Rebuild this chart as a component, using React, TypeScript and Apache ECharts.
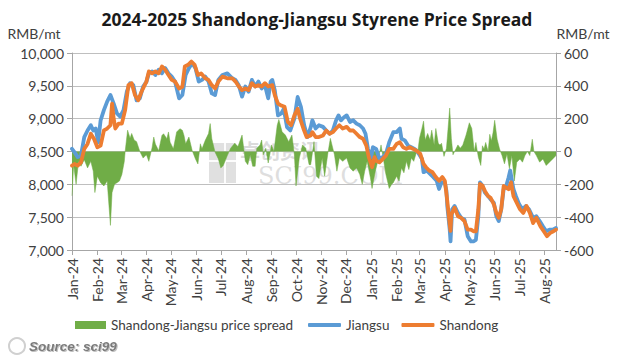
import React, { useEffect, useRef } from 'react';
import * as echarts from 'echarts';

const monthTickDates = [
  '2024-01-01', '2024-02-01', '2024-03-01', '2024-04-01', '2024-05-01', '2024-06-01',
  '2024-07-01', '2024-08-01', '2024-09-01', '2024-10-01', '2024-11-01', '2024-12-01',
  '2025-01-01', '2025-02-01', '2025-03-01', '2025-04-01', '2025-05-01', '2025-06-01',
  '2025-07-01', '2025-08-01',
];
const monthLabels = [
  'Jan-24', 'Feb-24', 'Mar-24', 'Apr-24', 'May-24', 'Jun-24', 'Jul-24', 'Aug-24', 'Sep-24',
  'Oct-24', 'Nov-24', 'Dec-24', 'Jan-25', 'Feb-25', 'Mar-25', 'Apr-25', 'May-25', 'Jun-25',
  'Jul-25', 'Aug-25',
];
const xStart = '2024-01-01';
const xEnd = '2025-08-15';

const jiangsu: [string, number][] = [
  ['2024-01-01', 8540], ['2024-01-04', 8490], ['2024-01-08', 8415], ['2024-01-12', 8440],
  ['2024-01-16', 8720], ['2024-01-20', 8820], ['2024-01-24', 8900], ['2024-01-27', 8820],
  ['2024-01-30', 8850], ['2024-02-02', 8640], ['2024-02-05', 8975], ['2024-02-09', 9130],
  ['2024-02-13', 9260], ['2024-02-17', 9360], ['2024-02-21', 9230], ['2024-02-25', 9080],
  ['2024-02-29', 9030], ['2024-03-04', 9130], ['2024-03-08', 9410], ['2024-03-12', 9540],
  ['2024-03-16', 9510], ['2024-03-20', 9280], ['2024-03-24', 9310], ['2024-03-28', 9490],
  ['2024-04-01', 9560], ['2024-04-04', 9690], ['2024-04-08', 9720], ['2024-04-12', 9665],
  ['2024-04-16', 9745], ['2024-04-20', 9690], ['2024-04-24', 9770], ['2024-04-28', 9690],
  ['2024-05-02', 9640], ['2024-05-06', 9565], ['2024-05-11', 9310], ['2024-05-15', 9360],
  ['2024-05-19', 9665], ['2024-05-23', 9770], ['2024-05-27', 9845], ['2024-05-31', 9770],
  ['2024-06-04', 9565], ['2024-06-08', 9590], ['2024-06-12', 9640], ['2024-06-16', 9565],
  ['2024-06-20', 9385], ['2024-06-24', 9360], ['2024-06-28', 9590], ['2024-07-03', 9665],
  ['2024-07-09', 9690], ['2024-07-15', 9615], ['2024-07-19', 9590], ['2024-07-23', 9510],
  ['2024-07-27', 9335], ['2024-07-31', 9490], ['2024-08-04', 9410], ['2024-08-08', 9590],
  ['2024-08-12', 9490], ['2024-08-16', 9565], ['2024-08-20', 9460], ['2024-08-24', 9510],
  ['2024-08-28', 9310], ['2024-08-31', 9565], ['2024-09-02', 9590], ['2024-09-05', 9435],
  ['2024-09-09', 9050], ['2024-09-13', 9080], ['2024-09-16', 9150], ['2024-09-20', 8870],
  ['2024-09-24', 8820], ['2024-09-29', 9000], ['2024-10-03', 9330], ['2024-10-07', 9180],
  ['2024-10-11', 8900], ['2024-10-15', 8720], ['2024-10-19', 8870], ['2024-10-21', 8975],
  ['2024-10-25', 8850], ['2024-10-29', 8900], ['2024-11-03', 8875], ['2024-11-07', 8820],
  ['2024-11-11', 8770], ['2024-11-15', 8820], ['2024-11-19', 8975], ['2024-11-22', 9050],
  ['2024-11-25', 8975], ['2024-11-29', 9025], ['2024-12-02', 9050], ['2024-12-06', 8950],
  ['2024-12-10', 8975], ['2024-12-14', 8925], ['2024-12-18', 8900], ['2024-12-22', 8850],
  ['2024-12-25', 8770], ['2024-12-28', 8540], ['2025-01-01', 8415], ['2025-01-03', 8565],
  ['2025-01-07', 8540], ['2025-01-11', 8390], ['2025-01-15', 8415], ['2025-01-19', 8465],
  ['2025-01-23', 8640], ['2025-01-28', 8795], ['2025-02-01', 8795], ['2025-02-05', 8850],
  ['2025-02-07', 8695], ['2025-02-11', 8670], ['2025-02-15', 8590], ['2025-02-19', 8565],
  ['2025-02-23', 8540], ['2025-02-27', 8490], ['2025-03-04', 8390], ['2025-03-06', 8185],
  ['2025-03-10', 8210], ['2025-03-14', 8160], ['2025-03-18', 8110], ['2025-03-22', 8055],
  ['2025-03-25', 7930], ['2025-03-28', 8030], ['2025-04-01', 8030], ['2025-04-03', 7900],
  ['2025-04-04', 7670], ['2025-04-07', 7310], ['2025-04-08', 7130], ['2025-04-10', 7620],
  ['2025-04-13', 7670], ['2025-04-17', 7565], ['2025-04-21', 7490], ['2025-04-25', 7465],
  ['2025-04-29', 7210], ['2025-05-03', 7130], ['2025-05-06', 7130], ['2025-05-09', 7155],
  ['2025-05-12', 7515], ['2025-05-14', 8030], ['2025-05-17', 7980], ['2025-05-20', 7875],
  ['2025-05-24', 7820], ['2025-05-27', 7770], ['2025-05-31', 7720], ['2025-06-03', 7515],
  ['2025-06-06', 7440], ['2025-06-09', 7620], ['2025-06-12', 7925], ['2025-06-15', 7975],
  ['2025-06-18', 8105], ['2025-06-20', 8210], ['2025-06-24', 7925], ['2025-06-27', 7820],
  ['2025-07-01', 7695], ['2025-07-05', 7620], ['2025-07-09', 7670], ['2025-07-13', 7620],
  ['2025-07-18', 7490], ['2025-07-22', 7515], ['2025-07-26', 7440], ['2025-07-30', 7360],
  ['2025-08-03', 7285], ['2025-08-07', 7310], ['2025-08-11', 7310], ['2025-08-15', 7335],
];

const shandong: [string, number][] = [
  ['2024-01-01', 8285], ['2024-01-04', 8310], ['2024-01-08', 8285], ['2024-01-12', 8335],
  ['2024-01-16', 8540], ['2024-01-20', 8615], ['2024-01-24', 8770], ['2024-01-28', 8690],
  ['2024-02-01', 8565], ['2024-02-05', 8590], ['2024-02-09', 8820], ['2024-02-13', 8850],
  ['2024-02-17', 8900], ['2024-02-19', 9230], ['2024-02-21', 9000], ['2024-02-23', 8850],
  ['2024-02-27', 8925], ['2024-03-02', 8925], ['2024-03-06', 9130], ['2024-03-10', 9510],
  ['2024-03-14', 9540], ['2024-03-18', 9360], ['2024-03-22', 9280], ['2024-03-26', 9410],
  ['2024-04-01', 9565], ['2024-04-04', 9720], ['2024-04-08', 9690], ['2024-04-12', 9720],
  ['2024-04-16', 9690], ['2024-04-20', 9795], ['2024-04-24', 9745], ['2024-04-28', 9665],
  ['2024-05-02', 9590], ['2024-05-06', 9565], ['2024-05-11', 9460], ['2024-05-15', 9485],
  ['2024-05-18', 9795], ['2024-05-22', 9820], ['2024-05-26', 9870], ['2024-05-30', 9820],
  ['2024-06-03', 9665], ['2024-06-07', 9690], ['2024-06-12', 9615], ['2024-06-16', 9590],
  ['2024-06-20', 9510], ['2024-06-24', 9460], ['2024-06-28', 9565], ['2024-07-03', 9640],
  ['2024-07-09', 9615], ['2024-07-15', 9615], ['2024-07-19', 9565], ['2024-07-23', 9490],
  ['2024-07-27', 9435], ['2024-07-31', 9460], ['2024-08-04', 9435], ['2024-08-08', 9540],
  ['2024-08-12', 9490], ['2024-08-16', 9510], ['2024-08-20', 9490], ['2024-08-24', 9540],
  ['2024-08-28', 9490], ['2024-09-02', 9510], ['2024-09-05', 9360], ['2024-09-09', 9230],
  ['2024-09-13', 9200], ['2024-09-17', 9180], ['2024-09-21', 8950], ['2024-09-25', 8900],
  ['2024-09-29', 9050], ['2024-10-03', 9150], ['2024-10-06', 9000], ['2024-10-10', 8850],
  ['2024-10-14', 8720], ['2024-10-19', 8745], ['2024-10-21', 8795], ['2024-10-25', 8720],
  ['2024-10-29', 8720], ['2024-11-03', 8745], ['2024-11-07', 8820], ['2024-11-11', 8770],
  ['2024-11-15', 8795], ['2024-11-19', 8850], ['2024-11-23', 8900], ['2024-11-27', 8850],
  ['2024-12-02', 8875], ['2024-12-06', 8820], ['2024-12-10', 8820], ['2024-12-14', 8770],
  ['2024-12-18', 8720], ['2024-12-22', 8695], ['2024-12-26', 8590], ['2024-12-29', 8415],
  ['2025-01-02', 8260], ['2025-01-05', 8415], ['2025-01-07', 8360], ['2025-01-11', 8335],
  ['2025-01-15', 8385], ['2025-01-19', 8440], ['2025-01-23', 8540], ['2025-01-28', 8540],
  ['2025-02-01', 8615], ['2025-02-05', 8640], ['2025-02-09', 8565], ['2025-02-13', 8540],
  ['2025-02-17', 8565], ['2025-02-21', 8540], ['2025-02-25', 8515], ['2025-03-02', 8465],
  ['2025-03-06', 8310], ['2025-03-09', 8260], ['2025-03-13', 8210], ['2025-03-17', 8185],
  ['2025-03-21', 8110], ['2025-03-25', 8055], ['2025-03-29', 8110], ['2025-04-01', 8055],
  ['2025-04-04', 7750], ['2025-04-07', 7390], ['2025-04-08', 7290], ['2025-04-09', 7540],
  ['2025-04-13', 7645], ['2025-04-17', 7515], ['2025-04-21', 7490], ['2025-04-25', 7440],
  ['2025-04-29', 7310], ['2025-05-03', 7310], ['2025-05-06', 7285], ['2025-05-09', 7285],
  ['2025-05-12', 7620], ['2025-05-14', 8005], ['2025-05-17', 7980], ['2025-05-20', 7900],
  ['2025-05-24', 7820], ['2025-05-27', 7795], ['2025-05-31', 7695], ['2025-06-03', 7565],
  ['2025-06-06', 7490], ['2025-06-09', 7620], ['2025-06-12', 7975], ['2025-06-15', 7950],
  ['2025-06-18', 7925], ['2025-06-21', 8030], ['2025-06-24', 7820], ['2025-06-27', 7745],
  ['2025-07-02', 7620], ['2025-07-06', 7565], ['2025-07-10', 7670], ['2025-07-14', 7565],
  ['2025-07-18', 7410], ['2025-07-22', 7490], ['2025-07-27', 7360], ['2025-07-31', 7285],
  ['2025-08-04', 7210], ['2025-08-08', 7260], ['2025-08-12', 7285], ['2025-08-15', 7310],
];

const spread: [string, number][] = [
  ['2024-01-01', -270], ['2024-01-03', -80], ['2024-01-06', -200], ['2024-01-09', -60],
  ['2024-01-12', -90], ['2024-01-16', -50], ['2024-01-20', -100], ['2024-01-24', -60],
  ['2024-01-27', -120], ['2024-01-29', -250], ['2024-02-01', -150], ['2024-02-05', -190],
  ['2024-02-09', -210], ['2024-02-13', -180], ['2024-02-17', -450], ['2024-02-19', -250],
  ['2024-02-22', -200], ['2024-02-25', -190], ['2024-02-28', -180], ['2024-03-02', -140],
  ['2024-03-05', -60], ['2024-03-06', 0], ['2024-03-09', 130], ['2024-03-12', 80],
  ['2024-03-14', 110], ['2024-03-17', 70], ['2024-03-20', 60], ['2024-03-24', 0],
  ['2024-03-28', -40], ['2024-04-01', -20], ['2024-04-04', -60], ['2024-04-08', 25],
  ['2024-04-10', 88], ['2024-04-12', 45], ['2024-04-16', 5], ['2024-04-20', 98],
  ['2024-04-22', 108], ['2024-04-26', 78], ['2024-04-28', 119], ['2024-04-30', 57],
  ['2024-05-02', 37], ['2024-05-04', 16], ['2024-05-08', 119], ['2024-05-12', 139],
  ['2024-05-15', 129], ['2024-05-17', 98], ['2024-05-19', 47], ['2024-05-23', 88],
  ['2024-05-27', 6], ['2024-05-31', -45], ['2024-06-03', -76], ['2024-06-06', 47],
  ['2024-06-08', 16], ['2024-06-12', 68], ['2024-06-16', 109], ['2024-06-18', 170],
  ['2024-06-20', 78], ['2024-06-24', -4], ['2024-06-28', -45], ['2024-07-01', -100],
  ['2024-07-04', -86], ['2024-07-09', -25], ['2024-07-13', 20], ['2024-07-18', 50],
  ['2024-07-22', 30], ['2024-07-27', 100], ['2024-07-31', -60], ['2024-08-03', -80],
  ['2024-08-06', -20], ['2024-08-09', -90], ['2024-08-12', -90], ['2024-08-14', 20],
  ['2024-08-18', 40], ['2024-08-20', 70], ['2024-08-22', -20], ['2024-08-25', 20],
  ['2024-08-28', -70], ['2024-09-01', 40], ['2024-09-04', 0], ['2024-09-08', 160],
  ['2024-09-10', 195], ['2024-09-14', 120], ['2024-09-18', 100], ['2024-09-22', 60],
  ['2024-09-26', 100], ['2024-09-29', -20], ['2024-10-01', -210], ['2024-10-05', -40],
  ['2024-10-09', 40], ['2024-10-13', 20], ['2024-10-17', -80], ['2024-10-19', -80],
  ['2024-10-23', 60], ['2024-10-26', -150], ['2024-10-29', -165], ['2024-11-02', -40],
  ['2024-11-05', -150], ['2024-11-09', -10], ['2024-11-12', 80], ['2024-11-14', 40],
  ['2024-11-17', -20], ['2024-11-20', -120], ['2024-11-23', -40], ['2024-11-27', -60],
  ['2024-12-02', -40], ['2024-12-06', -100], ['2024-12-10', -120], ['2024-12-14', -100],
  ['2024-12-18', -140], ['2024-12-21', -200], ['2024-12-24', -120], ['2024-12-27', -60],
  ['2024-12-31', -160], ['2025-01-02', -225], ['2025-01-06', -120], ['2025-01-10', -40],
  ['2025-01-13', 40], ['2025-01-15', -20], ['2025-01-19', -140], ['2025-01-23', -225],
  ['2025-01-26', -200], ['2025-01-28', -190], ['2025-02-01', -150], ['2025-02-04', -180],
  ['2025-02-07', -100], ['2025-02-10', -130], ['2025-02-13', -60], ['2025-02-16', -110],
  ['2025-02-19', -40], ['2025-02-22', -60], ['2025-02-25', -10], ['2025-02-27', 0],
  ['2025-03-01', 80], ['2025-03-04', 140], ['2025-03-06', 185], ['2025-03-08', 70],
  ['2025-03-11', 110], ['2025-03-14', 70], ['2025-03-16', 130], ['2025-03-19', 40],
  ['2025-03-21', 140], ['2025-03-24', 50], ['2025-03-26', 40], ['2025-03-28', 50],
  ['2025-03-31', -30], ['2025-04-03', 20], ['2025-04-04', 80], ['2025-04-07', 265],
  ['2025-04-09', 80], ['2025-04-11', -20], ['2025-04-15', 20], ['2025-04-17', 40],
  ['2025-04-20', 20], ['2025-04-23', 40], ['2025-04-27', 100], ['2025-05-01', 175],
  ['2025-05-04', 140], ['2025-05-07', 0], ['2025-05-09', 55], ['2025-05-12', -35],
  ['2025-05-15', -85], ['2025-05-17', 35], ['2025-05-19', 15], ['2025-05-21', 55],
  ['2025-05-24', 0], ['2025-05-26', 105], ['2025-05-28', 65], ['2025-05-30', 115],
  ['2025-06-01', 190], ['2025-06-04', 75], ['2025-06-07', 15], ['2025-06-10', -25],
  ['2025-06-13', -75], ['2025-06-16', -15], ['2025-06-19', -105], ['2025-06-22', -25],
  ['2025-06-25', -180], ['2025-06-28', -65], ['2025-07-02', -45], ['2025-07-05', -65],
  ['2025-07-08', -25], ['2025-07-11', 0], ['2025-07-14', -25], ['2025-07-17', 75],
  ['2025-07-19', 0], ['2025-07-22', -25], ['2025-07-26', -65], ['2025-07-30', -45],
  ['2025-08-03', -85], ['2025-08-07', -65], ['2025-08-11', -45], ['2025-08-15', -25],
];

const FONT = 'Lato, "Open Sans", sans-serif';

function toTs(s: string): number {
  const [y, m, d] = s.split('-').map(Number);
  return Date.UTC(y, m - 1, d);
}

export default function App() {
  const ref = useRef<HTMLDivElement>(null);
  useEffect(() => {
    const chart = echarts.init(ref.current!, null, { renderer: 'svg' });
    const tickTs = monthTickDates.map(toTs);
    const labelFor = (v: number) => {
      let best = 0;
      let bestD = Infinity;
      tickTs.forEach((t, i) => {
        const d = Math.abs(t - v);
        if (d < bestD) { bestD = d; best = i; }
      });
      return monthLabels[best];
    };
    const conv = (arr: [string, number][]) => arr.map(([d, v]) => [toTs(d), v]);
    const axisGray = '#A6A6A6';
    const labelColor = '#404040';
    const legendText = { fontFamily: FONT, fontSize: 13.5, color: labelColor };

    chart.setOption({
      animation: false,
      backgroundColor: '#ffffff',
      title: {
        text: '2024-2025 Shandong-Jiangsu Styrene Price Spread',
        left: 312,
        textAlign: 'center',
        top: 5,
        textStyle: { fontFamily: '"Open Sans", sans-serif', fontSize: 17.5, fontWeight: 'bold', color: '#1a1a1a' },
      },
      grid: { left: 72, right: 65, top: 53, bottom: 112, containLabel: false },
      legend: [
        {
          left: 70,
          top: 313,
          itemWidth: 31,
          itemHeight: 8,
          textStyle: legendText,
          data: [{ name: 'Shandong-Jiangsu price spread', icon: 'rect' }],
        },
        {
          left: 303,
          top: 313,
          itemWidth: 33,
          itemHeight: 4,
          itemGap: 12,
          textStyle: legendText,
          data: [
            { name: 'Jiangsu', icon: 'roundRect' },
            { name: 'Shandong', icon: 'roundRect' },
          ],
        },
      ],
      xAxis: {
        type: 'value',
        min: toTs(xStart),
        max: toTs(xEnd),
        axisLine: { show: true, onZero: false, lineStyle: { color: axisGray, width: 1 } },
        axisTick: { show: true, length: 5, lineStyle: { color: axisGray }, customValues: tickTs },
        axisLabel: {
          customValues: tickTs,
          rotate: 90,
          margin: 8,
          fontFamily: FONT,
          fontSize: 14,
          color: labelColor,
          formatter: (v: number) => labelFor(v),
        },
        splitLine: { show: false },
      },
      yAxis: [
        {
          type: 'value',
          min: 7000,
          max: 10000,
          interval: 500,
          axisLine: { show: true, lineStyle: { color: axisGray } },
          axisTick: { show: true, length: 5, lineStyle: { color: axisGray } },
          axisLabel: {
            margin: 8,
            fontFamily: FONT,
            fontSize: 14,
            color: labelColor,
            formatter: (v: number) => v.toLocaleString('en-US'),
          },
          splitLine: { show: true, lineStyle: { color: '#BFBFBF', width: 1 } },
        },
        {
          type: 'value',
          min: -600,
          max: 600,
          interval: 200,
          position: 'right',
          axisLine: { show: true, lineStyle: { color: axisGray } },
          axisTick: { show: true, length: 5, lineStyle: { color: axisGray } },
          axisLabel: { margin: 8, fontFamily: FONT, fontSize: 14, color: labelColor },
          splitLine: { show: false },
        },
      ],
      graphic: [
        {
          type: 'group',
          z: 1,
          silent: true,
          children: [
            { type: 'rect', shape: { x: 209, y: 143, width: 27, height: 40 }, style: { fill: '#d6d6d6', opacity: 0.75 } },
            { type: 'rect', shape: { x: 209, y: 160, width: 27, height: 2 }, style: { fill: '#ffffff', opacity: 0.9 } },
            { type: 'rect', shape: { x: 224, y: 143, width: 2, height: 40 }, style: { fill: '#ffffff', opacity: 0.9 } },
            {
              type: 'text', x: 240, y: 140,
              style: { text: '卓创资讯', fontFamily: '"Noto Sans CJK SC"', fontSize: 20, fontWeight: 'bold', fill: '#d0d0d0', opacity: 0.75 },
            },
            {
              type: 'text', x: 258, y: 164,
              style: { text: 'SCI99.COM', fontFamily: '"DejaVu Serif", serif', fontSize: 24, fill: '#d3d3d3', opacity: 0.75 },
            },
          ],
        },
        {
          type: 'text', x: 34, y: 33,
          style: { text: 'RMB/mt', fontFamily: FONT, fontSize: 14, fill: labelColor, align: 'center', verticalAlign: 'middle' },
        },
        {
          type: 'text', x: 583, y: 33,
          style: { text: 'RMB/mt', fontFamily: FONT, fontSize: 14, fill: labelColor, align: 'center', verticalAlign: 'middle' },
        },
        {
          type: 'circle', shape: { cx: 17, cy: 346, r: 8 },
          style: { fill: 'none', stroke: '#d0d0d0', lineWidth: 2 },
        },
        {
          type: 'text', x: 29, y: 346,
          style: {
            text: 'Source: sci99', fontFamily: '"Liberation Sans", Arial, sans-serif', fontSize: 13.5,
            fontWeight: 'bold', fontStyle: 'italic', fill: '#7a7a7a', verticalAlign: 'middle',
            textShadowColor: 'rgba(0,0,0,0.25)', textShadowBlur: 1, textShadowOffsetX: 1, textShadowOffsetY: 1,
          },
        },
      ],
      series: [
        {
          name: 'Shandong-Jiangsu price spread',
          type: 'line',
          yAxisIndex: 1,
          data: conv(spread),
          showSymbol: false,
          symbol: 'none',
          color: '#70AD47',
          lineStyle: { width: 0.5, color: '#70AD47' },
          areaStyle: { color: '#70AD47', opacity: 1 },
          z: 2,
        },
        {
          name: 'Jiangsu',
          type: 'line',
          data: conv(jiangsu),
          showSymbol: false,
          symbol: 'none',
          color: '#5B9BD5',
          lineStyle: { width: 3.8, color: '#5B9BD5', cap: 'round', join: 'round' },
          z: 3,
        },
        {
          name: 'Shandong',
          type: 'line',
          data: conv(shandong),
          showSymbol: false,
          symbol: 'none',
          color: '#ED7D31',
          lineStyle: { width: 3.8, color: '#ED7D31', cap: 'round', join: 'round' },
          z: 4,
        },
      ],
    });
    return () => chart.dispose();
  }, []);
  return (
    <div
      ref={ref}
      style={{ position: 'fixed', left: 0, top: 0, width: 621, height: 362, background: '#fff' }}
    />
  );
}
